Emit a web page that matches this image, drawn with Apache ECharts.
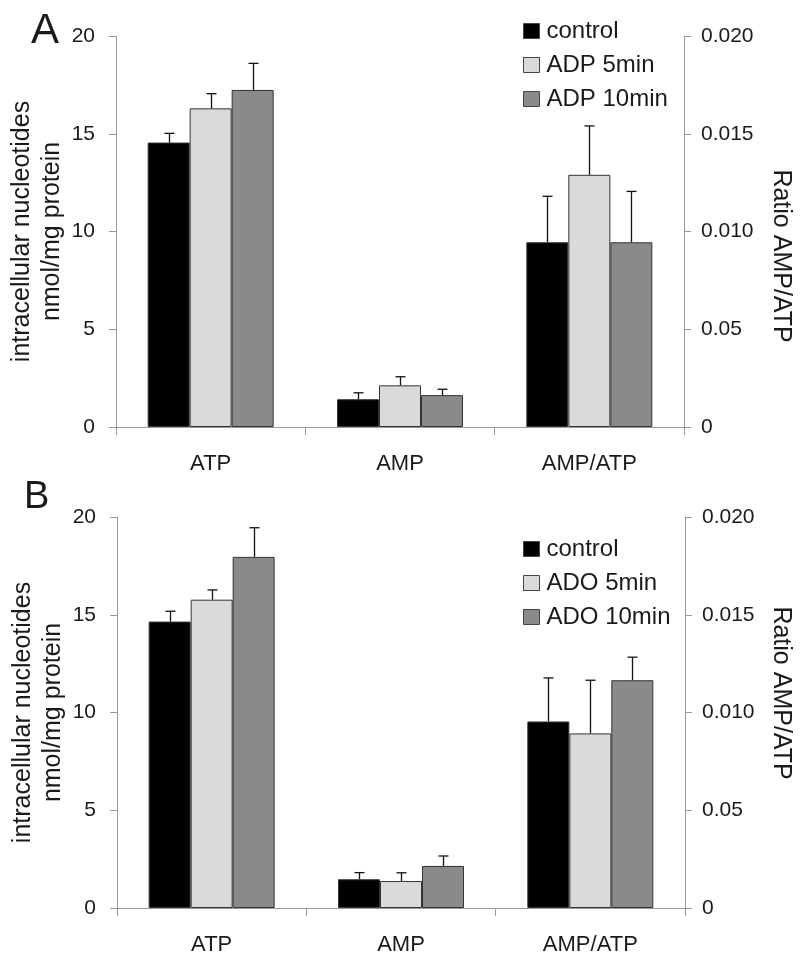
<!DOCTYPE html>
<html><head><meta charset="utf-8">
<script src="https://cdn.jsdelivr.net/npm/echarts@6/dist/echarts.min.js"></script>
<style>html,body{margin:0;padding:0;background:#fff}#c{width:800px;height:962px}</style>
</head><body><div id="c"></div>
<script>
// ---- data ----
const categories = ['ATP', 'AMP', 'AMP/ATP'];
const leftTickLabels = ['0', '5', '10', '15', '20'];
const rightTickLabels = ['0', '0.05', '0.010', '0.015', '0.020'];
const namesA = ['control', 'ADP 5min', 'ADP 10min'];
const namesB = ['control', 'ADO 5min', 'ADO 10min'];
const leftAxisName = 'intracellular nucleotides\nnmol/mg protein';
const rightAxisName = 'Ratio AMP/ATP';
const panelLabels = ['A', 'B'];
// values: [ATP (nmol/mg), AMP (nmol/mg), AMP/ATP ratio]
const A_control = [14.55, 1.42, 0.00945];
const A_control_err = [0.47, 0.33, 0.00235];
const A_adp5 = [16.30, 2.13, 0.0129];
const A_adp5_err = [0.75, 0.44, 0.0025];
const A_adp10 = [17.24, 1.63, 0.00945];
const A_adp10_err = [1.36, 0.30, 0.0026];
const B_control = [14.65, 1.47, 0.00954];
const B_control_err = [0.53, 0.34, 0.00223];
const B_ado5 = [15.77, 1.38, 0.00893];
const B_ado5_err = [0.50, 0.42, 0.00272];
const B_ado10 = [17.96, 2.15, 0.01165];
const B_ado10_err = [1.49, 0.51, 0.00118];

// ---- style ----
const FONT = 'Liberation Sans, Arial, sans-serif';
const TXT = '#1a1a1a';
const AXC = '#9a9a9a';
const COLORS = ['#000000', '#dadada', '#8a8a8a'];
const BAR_W = 42;
const CAP = 5;

const panels = [
  {names: namesA, vals: [A_control, A_adp5, A_adp10], errs: [A_control_err, A_adp5_err, A_adp10_err],
   grid: {left: 116, right: 116, top: 36, height: 391, outerBoundsMode: 'none', containLabel: false}},
  {names: namesB, vals: [B_control, B_ado5, B_ado10], errs: [B_control_err, B_ado5_err, B_ado10_err],
   grid: {left: 117, right: 115, top: 517, height: 391, outerBoundsMode: 'none', containLabel: false}}
];

const grids = [], xAxes = [], yAxes = [], series = [], legends = [];

function errRender(params, api) {
  const ci = api.value(0), v = api.value(1), e = api.value(2), k = api.value(3);
  const base = api.coord([ci, v]);
  const top = api.coord([ci, v + e]);
  const x = Math.round(base[0] + (k - 1) * BAR_W) + 0.5;
  const st = {stroke: '#111', lineWidth: 1.3};
  return {type: 'group', children: [
    {type: 'line', shape: {x1: x, y1: base[1], x2: x, y2: top[1]}, style: st},
    {type: 'line', shape: {x1: x - CAP, y1: top[1], x2: x + CAP, y2: top[1]}, style: st}
  ]};
}

panels.forEach((p, g) => {
  grids.push(p.grid);
  xAxes.push({
    type: 'category', gridIndex: g, data: categories,
    axisLine: {lineStyle: {color: AXC, width: 1}},
    axisTick: {show: true, length: 8, alignWithLabel: false, lineStyle: {color: AXC}},
    axisLabel: {fontSize: 22, fontFamily: FONT, color: TXT, margin: 26}
  });
  yAxes.push({
    type: 'value', gridIndex: g, position: 'left', min: 0, max: 20, interval: 5,
    axisLine: {show: true, lineStyle: {color: AXC}},
    axisTick: {show: true, length: 7, lineStyle: {color: AXC}},
    splitLine: {show: false},
    axisLabel: {fontSize: 21, fontFamily: FONT, color: TXT, margin: 21,
      formatter: v => leftTickLabels[Math.round(v / 5)]},
    name: leftAxisName, nameLocation: 'middle', nameGap: 49, nameRotate: 90,
    nameMoveOverlap: false,
    nameTextStyle: {fontSize: 25, fontFamily: FONT, color: TXT, lineHeight: 30}
  });
  yAxes.push({
    type: 'value', gridIndex: g, position: 'right', min: 0, max: 0.02, interval: 0.005,
    axisLine: {show: true, lineStyle: {color: AXC}},
    axisTick: {show: true, length: 7, lineStyle: {color: AXC}},
    splitLine: {show: false},
    axisLabel: {fontSize: 21, fontFamily: FONT, color: TXT, margin: 17,
      formatter: v => rightTickLabels[Math.round(v / 0.005)]}
  });
  const leftErr = [], rightErr = [];
  p.names.forEach((nm, k) => {
    const v = p.vals[k], e = p.errs[k];
    const common = {
      type: 'bar', name: nm, xAxisIndex: g, stack: 'p' + g + 't' + k,
      barWidth: BAR_W, barGap: '0%',
      itemStyle: {color: COLORS[k], borderColor: '#333', borderWidth: 1},
      emphasis: {disabled: true}, animation: false
    };
    series.push(Object.assign({}, common, {yAxisIndex: 2 * g, data: [v[0], v[1], '-']}));
    series.push(Object.assign({}, common, {yAxisIndex: 2 * g + 1, data: ['-', '-', v[2]]}));
    leftErr.push([0, v[0], e[0], k], [1, v[1], e[1], k]);
    rightErr.push([2, v[2], e[2], k]);
  });
  series.push({type: 'custom', name: 'errL' + g, xAxisIndex: g, yAxisIndex: 2 * g,
    renderItem: errRender, data: leftErr, encode: {x: 0, y: 1}, z: 5, animation: false});
  series.push({type: 'custom', name: 'errR' + g, xAxisIndex: g, yAxisIndex: 2 * g + 1,
    renderItem: errRender, data: rightErr, encode: {x: 0, y: 1}, z: 5, animation: false});
  legends.push({
    orient: 'vertical', left: 518, top: g === 0 ? 14 : 532,
    data: p.names, icon: 'rect', itemWidth: 16, itemHeight: 15, itemGap: 10,
    selectedMode: false,
    itemStyle: {borderColor: '#444', borderWidth: 1},
    textStyle: {fontSize: 24, fontFamily: FONT, color: TXT, padding: [0, 0, 0, 2]}
  });
});

const chart = echarts.init(document.getElementById('c'), null, {renderer: 'canvas'});
chart.setOption({
  backgroundColor: '#fff',
  animation: false,
  grid: grids, xAxis: xAxes, yAxis: yAxes, series: series, legend: legends,
  graphic: [
    {type: 'text', left: 31, top: 10, style: {text: panelLabels[0], fontSize: 42, fontFamily: FONT, fill: TXT}},
    {type: 'text', left: 24, top: 479, style: {text: panelLabels[1], fontSize: 38, fontFamily: FONT, fill: TXT}},
    {type: 'text', x: 781, y: 256, rotation: -Math.PI / 2,
      style: {text: rightAxisName, fontSize: 25, fontFamily: FONT, fill: TXT, align: 'center', verticalAlign: 'middle'}},
    {type: 'text', x: 781, y: 693, rotation: -Math.PI / 2,
      style: {text: rightAxisName, fontSize: 25, fontFamily: FONT, fill: TXT, align: 'center', verticalAlign: 'middle'}}
  ]
});
</script></body></html>
